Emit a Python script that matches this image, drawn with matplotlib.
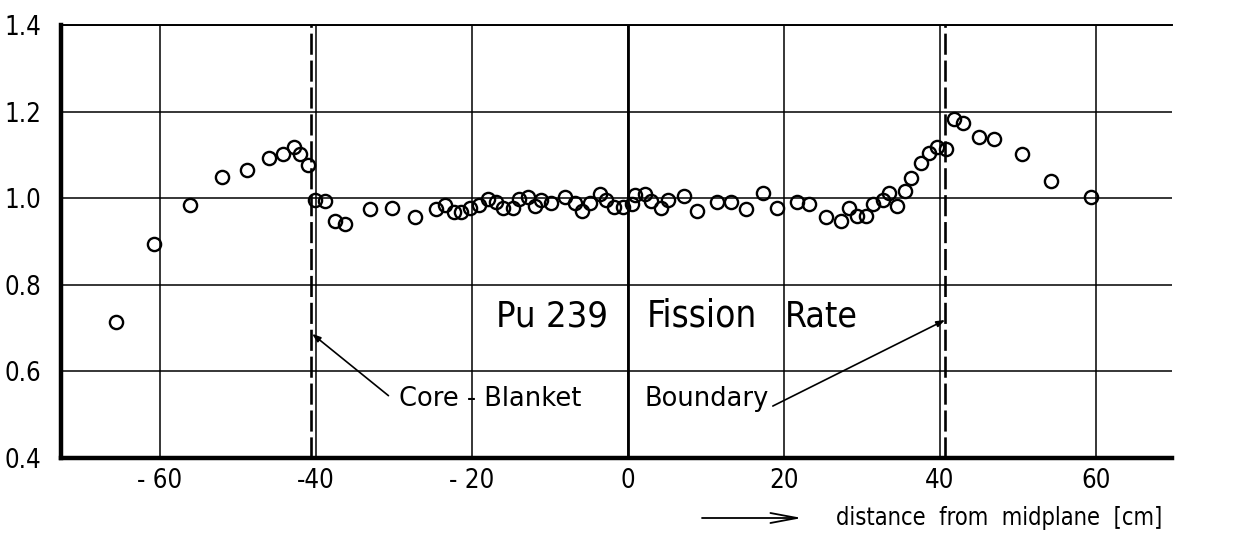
import matplotlib
matplotlib.use("Agg")
import matplotlib.pyplot as plt
from matplotlib.patches import FancyArrowPatch

# Measured relative Pu-239 fission rate along the axis
distance_cm = [-65.7, -60.8, -56.1, -52.1, -48.9, -46.0, -44.2, -42.8, -42.0, -41.0,
               -40.1, -38.85, -37.55, -36.25, -33.1, -30.3, -27.3, -24.6, -23.4, -22.3,
               -21.4, -20.3, -19.1, -17.9, -16.9, -16.0, -14.7, -14.0, -12.8, -11.9,
               -11.1, -9.8, -8.0, -6.8, -5.9, -4.9, -3.6, -2.75, -1.8, -0.6,
               0.5, 0.9, 2.2, 3.0, 4.2, 5.2, 7.2, 8.9, 11.4, 13.2,
               15.2, 17.3, 19.2, 21.7, 23.2, 25.4, 27.4, 28.4, 29.4, 30.5,
               31.4, 32.7, 33.5, 34.5, 35.6, 36.3, 37.6, 38.6, 39.7, 40.8,
               41.8, 43.0, 45.0, 47.0, 50.6, 54.3, 59.4]
fission_rate = [0.713, 0.894, 0.984, 1.049, 1.065, 1.092, 1.101, 1.119, 1.101, 1.076,
                0.995, 0.992, 0.948, 0.940, 0.975, 0.978, 0.955, 0.975, 0.985, 0.967,
                0.967, 0.976, 0.984, 0.998, 0.990, 0.976, 0.976, 0.998, 1.003, 0.982,
                0.995, 0.989, 1.002, 0.988, 0.971, 0.989, 1.010, 0.995, 0.980, 0.980,
                0.986, 1.007, 1.010, 0.994, 0.978, 0.995, 1.005, 0.971, 0.991, 0.990,
                0.975, 1.012, 0.976, 0.991, 0.986, 0.955, 0.948, 0.978, 0.959, 0.959,
                0.986, 0.995, 1.012, 0.981, 1.016, 1.046, 1.082, 1.103, 1.119, 1.113,
                1.182, 1.173, 1.140, 1.136, 1.101, 1.040, 1.002]

boundaries = [-40.6, 40.7]
x_ticks = [-60, -40, -20, 0, 20, 40, 60]
x_tick_labels = ["- 60", "-40", "- 20", "0", "20", "40", "60"]
y_ticks = [0.4, 0.6, 0.8, 1.0, 1.2, 1.4]
y_tick_labels = ["0.4", "0.6", "0.8", "1.0", "1.2", "1.4"]

plt.rcParams["font.family"] = ["DejaVu Sans"]
plt.rcParams["font.stretch"] = "condensed"

fig = plt.figure(figsize=(12.33, 5.38), dpi=100)
ax = fig.add_axes([0.0495, 0.1496, 0.9010, 0.8039])
ax.set_xlim(-72.7, 69.8)
ax.set_ylim(0.4, 1.4)

ax.set_xticks(x_ticks)
ax.set_xticklabels(x_tick_labels)
ax.set_yticks(y_ticks)
ax.set_yticklabels(y_tick_labels)
ax.tick_params(length=0, labelsize=18.5)
ax.tick_params(axis="x", pad=7.5)
ax.tick_params(axis="y", pad=14)

ax.grid(True, color="black", linewidth=1.1)
ax.set_axisbelow(True)

for side in ("left", "bottom"):
    ax.spines[side].set_linewidth(3.2)
ax.spines["top"].set_linewidth(1.4)
ax.spines["right"].set_visible(False)

ax.axvline(0, color="black", linewidth=2.0, zorder=1)
for b in boundaries:
    ax.axvline(b, color="black", linewidth=1.9, dashes=(8, 2.2), zorder=2)

ax.plot(distance_cm, fission_rate, linestyle="none", marker="o", markersize=9.5,
        markerfacecolor="none", markeredgecolor="black", markeredgewidth=1.7, zorder=3)

# Title inside the plot
ax.text(-2.6, 0.703, "Pu 239", fontsize=26, ha="right", va="baseline")
ax.text(2.4, 0.703, "Fission", fontsize=26.5, ha="left", va="baseline")
ax.text(20.1, 0.703, "Rate", fontsize=25.5, ha="left", va="baseline")

# Boundary annotations
arrow_kw = dict(arrowstyle="-|>,head_length=0.5,head_width=0.18", color="black",
                linewidth=1.2, shrinkA=0, shrinkB=0)
ax.text(-29.4, 0.519, "Core - Blanket", fontsize=18.5, fontstretch="normal",
        ha="left", va="baseline")
ax.text(2.2, 0.519, "Boundary", fontsize=18.5, fontstretch="normal",
        ha="left", va="baseline")
ax.annotate("", xy=(-40.5, 0.686), xytext=(-30.7, 0.543), arrowprops=arrow_kw)
ax.annotate("", xy=(40.7, 0.718), xytext=(18.6, 0.519), arrowprops=arrow_kw)

# Axis caption with direction arrow
fig.patches.append(FancyArrowPatch(
    (702 / 1233, 1 - 518 / 538), (802 / 1233, 1 - 518 / 538),
    transform=fig.transFigure, arrowstyle="->,head_length=1.6,head_width=0.3",
    mutation_scale=12, color="black", linewidth=1.3, shrinkA=0, shrinkB=0))
fig.text(836 / 1233, 1 - 525 / 538, "distance  from  midplane  [cm]",
         fontsize=17, ha="left", va="baseline")

fig.savefig("out.png", dpi=100)
